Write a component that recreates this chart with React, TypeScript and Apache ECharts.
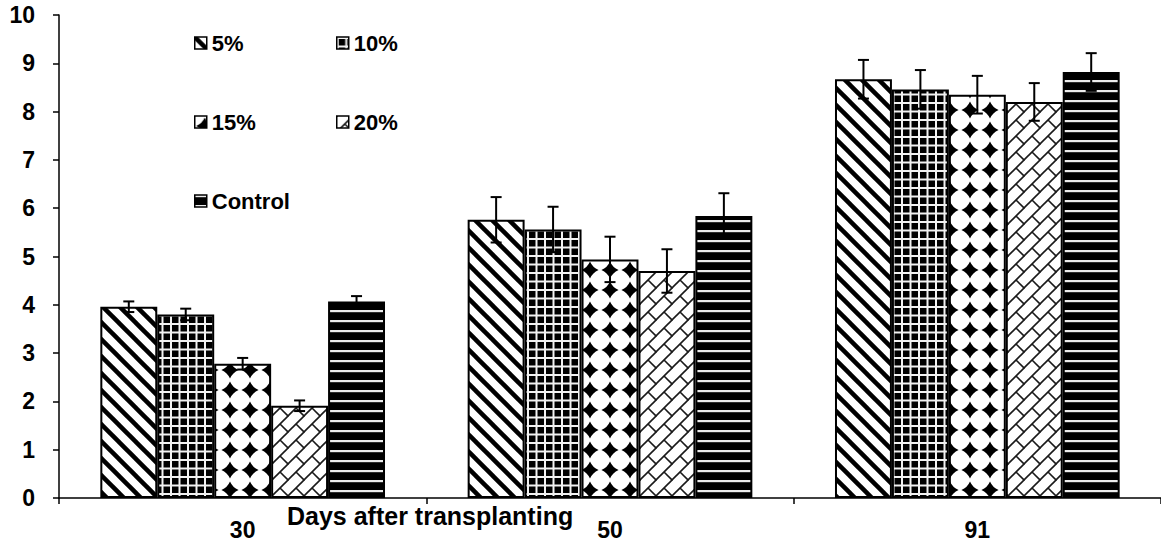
import React, { useEffect, useRef } from "react";
import * as echarts from "echarts";

const categories = ["30", "50", "91"];
const seriesNames = ["5%", "10%", "15%", "20%", "Control"];
const values5 = [3.96, 5.76, 8.67];
const values10 = [3.8, 5.56, 8.46];
const values15 = [2.78, 4.94, 8.35];
const values20 = [1.91, 4.7, 8.2];
const valuesControl = [4.07, 5.84, 8.82];
const err5 = [0.11, 0.47, 0.4];
const err10 = [0.12, 0.47, 0.4];
const err15 = [0.12, 0.47, 0.39];
const err20 = [0.11, 0.45, 0.39];
const errControl = [0.11, 0.47, 0.39];
const yTicks = [0, 1, 2, 3, 4, 5, 6, 7, 8, 9, 10];

const allValues = [values5, values10, values15, values20, valuesControl];
const allErrors = [err5, err10, err15, err20, errControl];

const CAT_GAP = 0.225;
const FONT = "'Liberation Sans', Arial, Helvetica, sans-serif";

function mk(size: number, draw: (g: CanvasRenderingContext2D, s: number) => void) {
  const c = document.createElement("canvas");
  c.width = size;
  c.height = size;
  const g = c.getContext("2d") as CanvasRenderingContext2D;
  draw(g, size);
  return c;
}

function makePatterns() {
  const p5 = mk(17, (g, s) => {
    g.fillStyle = "#fff";
    g.fillRect(0, 0, s, s);
    g.strokeStyle = "#000";
    g.lineWidth = 4.5;
    for (const c of [-s, 0, s]) {
      g.beginPath();
      g.moveTo(c - 2, -2);
      g.lineTo(c + s + 2, s + 2);
      g.stroke();
    }
  });
  const p10 = mk(17, (g, s) => {
    g.fillStyle = "#000";
    g.fillRect(0, 0, s, s);
    g.fillStyle = "#f2f2f2";
    g.fillRect(0, 0, 2, s);
    g.fillRect(8.5, 0, 2, s);
    g.fillRect(0, 0, s, 2);
    g.fillRect(0, 8.5, s, 2);
  });
  const p15 = mk(20, (g, s) => {
    g.fillStyle = "#fff";
    g.fillRect(0, 0, s, s);
    g.fillStyle = "#000";
    const c = s / 2;
    const h = 8.6;
    const k = 2.6;
    g.beginPath();
    g.moveTo(c, c - h);
    g.quadraticCurveTo(c + k, c - k, c + h, c);
    g.quadraticCurveTo(c + k, c + k, c, c + h);
    g.quadraticCurveTo(c - k, c + k, c - h, c);
    g.quadraticCurveTo(c - k, c - k, c, c - h);
    g.closePath();
    g.fill();
    g.beginPath();
    g.moveTo(c, c - 5.2);
    g.lineTo(c + 5.2, c);
    g.lineTo(c, c + 5.2);
    g.lineTo(c - 5.2, c);
    g.closePath();
    g.fill();
  });
  const p20 = mk(16, (g, s) => {
    g.fillStyle = "#fff";
    g.fillRect(0, 0, s, s);
    g.strokeStyle = "#1a1a1a";
    g.lineWidth = 1.6;
    const seg = (x1: number, y1: number, x2: number, y2: number) => {
      g.beginPath();
      g.moveTo(x1, y1);
      g.lineTo(x2, y2);
      g.stroke();
    };
    seg(-2, s + 2, s + 2, -2);
    seg(-2, 2, 2, -2);
    seg(s - 2, s + 2, s + 2, s - 2);
    seg(s / 2, s / 2, s + 2, s + 2);
    seg(-2, -2, 0.5, 0.5);
  });
  const pC = mk(10, (g, s) => {
    g.fillStyle = "#000";
    g.fillRect(0, 0, s, s);
    g.fillStyle = "#ececec";
    g.fillRect(0, 0, s, 2.2);
  });
  return [p5, p10, p15, p20, pC].map((c) => ({ image: c, repeat: "repeat" }));
}

const legendPos = [
  { left: 194, top: 32 },
  { left: 336, top: 32 },
  { left: 194, top: 111 },
  { left: 336, top: 111 },
  { left: 194, top: 190 },
];

export default function App() {
  const ref = useRef<HTMLDivElement>(null);
  useEffect(() => {
    if (!ref.current) return;
    const chart = echarts.init(ref.current, undefined, { renderer: "svg" });
    const patterns = makePatterns();

    const barSeries = seriesNames.map((name, i) => ({
      type: "bar",
      name,
      data: allValues[i],
      barGap: "0%",
      barCategoryGap: CAT_GAP * 100 + "%",
      itemStyle: { color: patterns[i] as any, borderColor: "#000", borderWidth: 2 },
      z: 2,
    }));

    const errSeries = seriesNames.map((name, idx) => ({
      type: "custom",
      name: "err-" + name,
      z: 10,
      renderItem: (params: any, api: any) => {
        const xi = api.value(0);
        const v = api.value(1);
        const e = api.value(2);
        const catW = api.size([1, 0])[0];
        const bw = (catW * (1 - CAT_GAP)) / seriesNames.length;
        const off = (idx - (seriesNames.length - 1) / 2) * bw;
        const top = api.coord([xi, v + e]);
        const bot = api.coord([xi, v - e]);
        const x = top[0] + off;
        const cap = 5.5;
        const st = { stroke: "#000", lineWidth: 2 };
        return {
          type: "group",
          children: [
            { type: "line", shape: { x1: x, y1: top[1], x2: x, y2: bot[1] }, style: st },
            { type: "line", shape: { x1: x - cap, y1: top[1], x2: x + cap, y2: top[1] }, style: st },
            { type: "line", shape: { x1: x - cap, y1: bot[1], x2: x + cap, y2: bot[1] }, style: st },
          ],
        };
      },
      data: categories.map((c, i) => [i, allValues[idx][i], allErrors[idx][i]]),
    }));

    const option: any = {
      animation: false,
      backgroundColor: "#fff",
      title: {
        text: "Days after transplanting",
        left: 287,
        top: 503,
        padding: 0,
        textStyle: { fontFamily: FONT, fontSize: 25, fontWeight: "bold", color: "#000" },
      },
      legend: seriesNames.map((name, i) => ({
        data: [name],
        left: legendPos[i].left,
        top: legendPos[i].top,
        padding: 0,
        icon: "rect",
        itemWidth: 12,
        itemHeight: 12,
        itemGap: 6,
        itemStyle: { borderWidth: 1.5, borderColor: "#000" },
        selectedMode: false,
        textStyle: { fontFamily: FONT, fontSize: 22, fontWeight: "bold", color: "#000" },
      })),
      grid: { left: 59, right: -4, top: 15, bottom: 46, containLabel: false },
      xAxis: {
        type: "category",
        data: categories,
        axisLine: { lineStyle: { color: "#000", width: 1.5 } },
        axisTick: { show: true, length: 6, lineStyle: { color: "#000", width: 1.5 } },
        axisLabel: { fontFamily: FONT, fontSize: 23, fontWeight: "bold", color: "#000", margin: 20 },
        splitLine: { show: false },
      },
      yAxis: {
        type: "value",
        min: yTicks[0],
        max: yTicks[yTicks.length - 1],
        interval: 1,
        axisLine: { show: true, lineStyle: { color: "#000", width: 1.5 } },
        axisTick: { show: true, length: 6, lineStyle: { color: "#000", width: 1.5 } },
        axisLabel: { fontFamily: FONT, fontSize: 23, fontWeight: "bold", color: "#000", margin: 24 },
        splitLine: { show: false },
      },
      series: [...barSeries, ...errSeries],
    };
    chart.setOption(option);
    return () => chart.dispose();
  }, []);
  return (
    <div
      ref={ref}
      style={{ width: 1161, height: 544, position: "absolute", left: 0, top: 0 }}
    />
  );
}
